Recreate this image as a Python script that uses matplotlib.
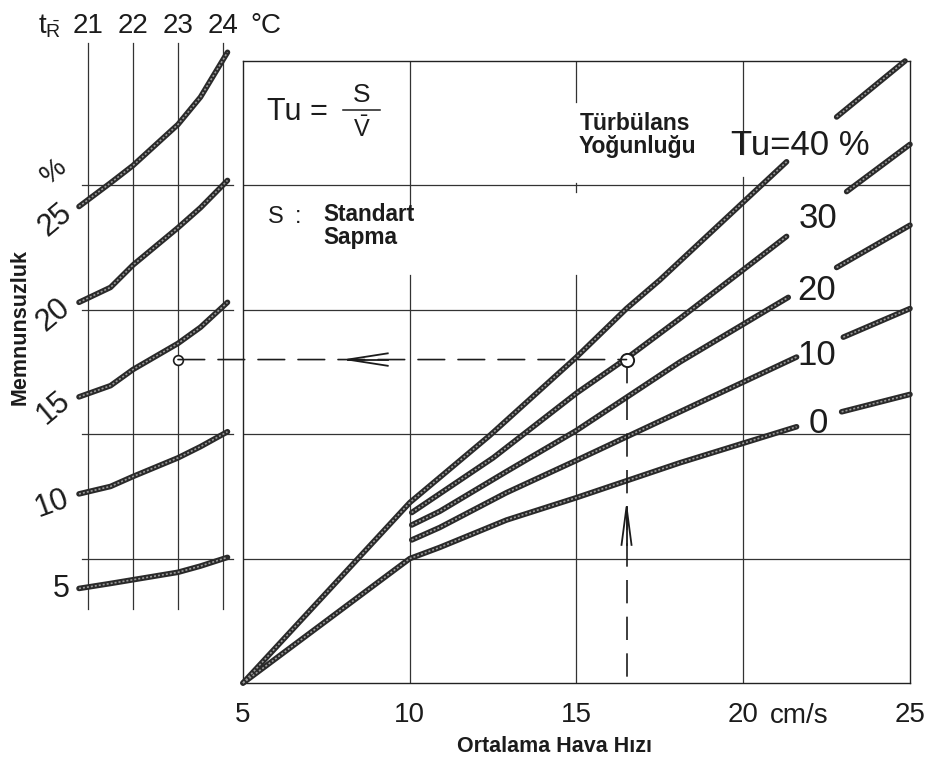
import numpy as np
import matplotlib
matplotlib.use('Agg')
import matplotlib.pyplot as plt
from matplotlib.patches import ConnectionPatch

plt.rcParams['font.family'] = ['Liberation Sans', 'DejaVu Sans']
plt.rcParams['mathtext.fontset'] = 'custom'
plt.rcParams['mathtext.rm'] = 'Liberation Sans'
plt.rcParams['mathtext.it'] = 'Liberation Sans:italic'
plt.rcParams['mathtext.bf'] = 'Liberation Sans:bold'

# ---------------- data ----------------
velocity_ticks = [5, 10, 15, 20, 25]
velocity_tick_labels = ['5', '10', '15', '20', '25']
tR_ticks = [21, 22, 23, 24]
tR_tick_labels = ['21', '22', '23', '24']

nan = np.nan
# turbulence-intensity lines (right panel); nan = gap for the label
tu40_v = [5, 10, 12.4, 15, 16.5, 17.5, 21.3, nan, 22.8, 24.85]
tu40_y = [0, 1.45, 1.99, 2.62, 3.01, 3.24, 4.19, nan, 4.55, 5.0]
tu30_v = [10.06, 12.5, 15, 16.5, 18.1, 21.3, nan, 23.1, 25]
tu30_y = [1.37, 1.81, 2.33, 2.61, 2.93, 3.59, nan, 3.95, 4.33]
tu20_v = [10.06, 10.9, 12.9, 15, 18.1, 21.35, nan, 22.8, 25]
tu20_y = [1.27, 1.38, 1.70, 2.03, 2.58, 3.10, nan, 3.34, 3.68]
tu10_v = [10.06, 10.9, 12.9, 15, 18.1, 21.6, nan, 23.0, 25]
tu10_y = [1.15, 1.25, 1.53, 1.79, 2.18, 2.62, nan, 2.78, 3.01]
tu0_v = [5, 10, 10.9, 12.9, 15, 18.1, 21.6, nan, 22.95, 25]
tu0_y = [0, 1.0, 1.09, 1.31, 1.49, 1.77, 2.06, nan, 2.18, 2.32]
tu_series = [(tu40_v, tu40_y), (tu30_v, tu30_y), (tu20_v, tu20_y),
             (tu10_v, tu10_y), (tu0_v, tu0_y)]
tu_labels = ['Tu=40 %', '30', '20', '10', '0']

# dissatisfaction curves vs room temperature (left panel)
tR_pts = [20.8, 21.5, 22, 23, 23.5, 24.1]
dis5 = [0.76, 0.80, 0.83, 0.89, 0.94, 1.01]
dis10 = [1.52, 1.58, 1.66, 1.81, 1.90, 2.02]
dis15 = [2.30, 2.39, 2.52, 2.73, 2.86, 3.06]
dis20 = [3.06, 3.18, 3.36, 3.66, 3.82, 4.04]
dis25 = [3.83, 4.02, 4.16, 4.49, 4.71, 5.07]
dis_curves = [dis5, dis10, dis15, dis20, dis25]
dis_labels = ['5', '10', '15', '20', '25']

# worked example
read_v = 16.5
read_y = 2.6
read_tR = 23.0

# ---------------- layout ----------------
W, H = 939, 774
fig = plt.figure(figsize=(W / 100, H / 100), dpi=100)
fig.patch.set_facecolor('white')

def fx(px):
    return px / W

def fy(py):
    return 1 - py / H

ax_r = fig.add_axes([fx(243), fy(683), fx(910) - fx(243), fy(61) - fy(683)])
ax_l = fig.add_axes([fx(43), fy(683), fx(241) - fx(43), fy(61) - fy(683)])

ink = '#1c1c1c'
grid_kw = dict(color='#333333', lw=0.9, zorder=1)

def thick(ax, x, y):
    ax.plot(x, y, color='#2a2a2a', lw=4.0, solid_capstyle='round',
            zorder=3, clip_on=False)
    ax.plot(x, y, color='#9a9a9a', lw=1.2, ls=(0, (1.2, 1.2)),
            zorder=4, clip_on=False)

# ---- right panel ----
ax_r.set_xlim(5, 25)
ax_r.set_ylim(0, 5)
ax_r.set_yticks([])
ax_r.set_xticks(velocity_ticks)
ax_r.set_xticklabels(velocity_tick_labels)
ax_r.tick_params(axis='x', length=0, pad=14, labelsize=20, labelcolor=ink)
for s in ax_r.spines.values():
    s.set_color('#222222')
    s.set_linewidth(1.0)

for yv in [1, 2, 3, 4]:
    ax_r.plot([5, 25], [yv, yv], **grid_kw)
# vertical grid segments (erased where the texts sit)
vgrid = {10: [(0, 3.28), (3.83, 5)],
         15: [(0, 3.28), (3.95, 4.02), (4.67, 5)],
         20: [(0, 4.07), (4.25, 5)]}
for xv, segs in vgrid.items():
    for a, b in segs:
        ax_r.plot([xv, xv], [a, b], **grid_kw)

for (xs, ys) in tu_series:
    thick(ax_r, xs, ys)

ax_r.text(19.64, 4.244, tu_labels[0], fontsize=25, ha='left', va='baseline', color=ink)
tu_lab_pos = [(22.25, 3.658), (22.19, 3.079), (22.2, 2.556), (22.25, 2.010)]
for lab, (x, y) in zip(tu_labels[1:], tu_lab_pos):
    ax_r.text(x, y, lab, fontsize=25, ha='center', va='baseline', color=ink)

# formula
ax_r.text(5.72, 4.526, 'Tu =', fontsize=22, ha='left', va='baseline', color=ink)
ax_r.text(8.56, 4.670, 'S', fontsize=19, ha='center', va='baseline', color=ink)
ax_r.plot([7.99, 9.10], [4.606, 4.606], color=ink, lw=1.1)
ax_r.text(8.56, 4.389, r'$\bar{\mathrm{V}}$', fontsize=17, ha='center', va='baseline', color=ink)

ax_r.text(5.75, 3.70, 'S', fontsize=17, ha='left', va='baseline', color=ink)
ax_r.text(6.65, 3.70, ':', fontsize=17, ha='center', va='baseline', color=ink)
ax_r.text(7.40, 3.71, 'Standart', fontsize=16.3, fontweight='bold', ha='left', va='baseline', color=ink)
ax_r.text(7.40, 3.53, 'Sapma', fontsize=16.3, fontweight='bold', ha='left', va='baseline', color=ink)

ax_r.text(15.09, 4.446, 'Türbülans', fontsize=16.5, fontweight='bold', ha='left', va='baseline', color=ink)
ax_r.text(15.05, 4.261, 'Yoğunluğu', fontsize=16.5, fontweight='bold', ha='left', va='baseline', color=ink)

# axis texts
ax_r.text(20.81, -0.32, 'cm/s', fontsize=20, ha='left', va='baseline', color=ink, clip_on=False)
ax_r.text(14.34, -0.555, 'Ortalama Hava Hızı', fontsize=15.5, fontweight='bold',
          ha='center', va='baseline', color=ink, clip_on=False)

# worked-example reading
ax_r.plot([read_v, read_v], [read_y, 0], color=ink, lw=1.2, ls=(0, (14, 8)), zorder=5)
ax_r.plot([read_v, read_v], [1.11, 1.415], color=ink, lw=1.3, zorder=5)
ax_r.plot([read_v - 0.15, read_v, read_v + 0.15], [1.11, 1.415, 1.11], color=ink, lw=1.3, zorder=5)
ax_r.plot([8.14, 9.34], [read_y, read_y], color=ink, lw=1.3, zorder=5)
ax_r.plot([9.34, 8.14, 9.34], [read_y + 0.05, read_y, read_y - 0.05], color=ink, lw=1.3, zorder=5)
ax_r.plot([read_v], [read_y], 'o', ms=9.5, mfc='white', mec=ink, mew=1.4, zorder=7)

# ---- left panel ----
ax_l.set_xlim(20.0, 24.4)
ax_l.set_ylim(0, 5)
ax_l.axis('off')
for t in tR_ticks:
    ax_l.plot([t, t], [0.595, 5.145], clip_on=False, **grid_kw)
for yv in [1, 2, 3, 4]:
    ax_l.plot([20.87, 24.22], [yv, yv], clip_on=False, **grid_kw)
for c in dis_curves:
    thick(ax_l, tR_pts, c)

for t, lab in zip(tR_ticks, tR_tick_labels):
    ax_l.text(t, 5.225, lab, fontsize=20, ha='center', va='baseline', color=ink, clip_on=False)
ax_l.text(19.89, 5.225, r'$\mathrm{t}_{\bar{\mathrm{R}}}$', fontsize=20, ha='left',
          va='baseline', color=ink, clip_on=False)
ax_l.text(24.6, 5.225, '°C', fontsize=20, ha='left', va='baseline', color=ink, clip_on=False)

dis_lab_pos = [(20.40, 0.756), (20.20, 1.439), (20.24, 2.211), (20.24, 2.958), (20.27, 3.722)]
dis_lab_rot = [0, 20, 40, 40, 40]
for lab, (x, y), r in zip(dis_labels, dis_lab_pos, dis_lab_rot):
    ax_l.text(x, y, lab, fontsize=22, ha='center', va='center', rotation=r,
              color=ink, clip_on=False)
ax_l.text(20.24, 4.108, '%', fontsize=20, ha='center', va='center', rotation=40,
          color=ink, clip_on=False)

ax_l.plot([read_tR], [read_y], 'o', ms=7, mfc='white', mec=ink, mew=1.2, zorder=7, clip_on=False)

con = ConnectionPatch(xyA=(read_tR, read_y), coordsA=ax_l.transData,
                      xyB=(read_v, read_y), coordsB=ax_r.transData,
                      linestyle=(0, (16, 8)), lw=1.2, color=ink, zorder=5)
fig.add_artist(con)

fig.text(fx(20), fy(327), 'Memnunsuzluk', rotation=90, fontsize=15.5,
         fontweight='bold', ha='center', va='center', color=ink)

fig.savefig('out.png', dpi=100, facecolor='white')
